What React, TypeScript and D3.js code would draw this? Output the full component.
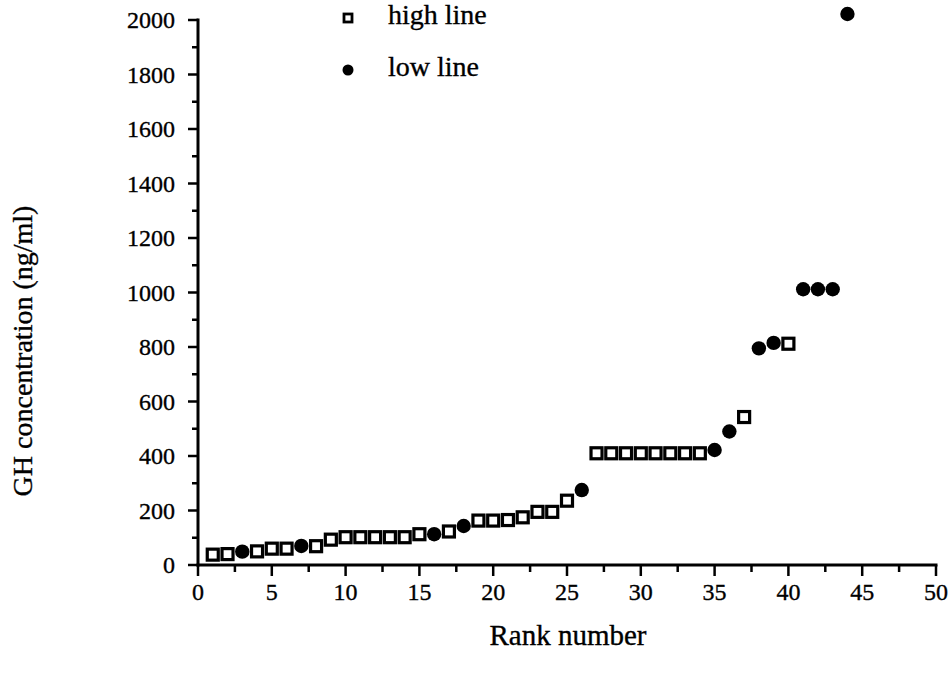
import React from "react";
import * as d3 from "d3";

// High-line samples (open squares): rank and GH concentration (ng/ml)
const highRanks = [1, 2, 4, 5, 6, 8, 9, 10, 11, 12, 13, 14, 15, 17, 19, 20, 21, 22, 23, 24, 25, 27, 28, 29, 30, 31, 32, 33, 34, 37, 40];
const highValues = [38, 40, 50, 60, 60, 69, 93, 102, 102, 102, 102, 102, 113, 123, 163, 163, 165, 175, 195, 195, 236, 410, 410, 410, 410, 410, 410, 410, 410, 543, 812];

// Low-line samples (filled circles)
const lowRanks = [3, 7, 16, 18, 26, 35, 36, 38, 39, 41, 42, 43, 44];
const lowValues = [49, 70, 113, 143, 275, 422, 490, 795, 815, 1012, 1012, 1012, 2022];

const xTicks = [0, 5, 10, 15, 20, 25, 30, 35, 40, 45, 50];
const yTicks = [0, 200, 400, 600, 800, 1000, 1200, 1400, 1600, 1800, 2000];
const xTitle = "Rank number";
const yTitle = "GH concentration (ng/ml)";
const legendLabels = ["high line", "low line"];

const W = 952;
const H = 679;
const FONT = '"Liberation Serif", "DejaVu Serif", "Times New Roman", Times, serif';

export default function App() {
  const x = d3.scaleLinear().domain([0, 50]).range([198, 936]);
  const y = d3.scaleLinear().domain([0, 2000]).range([565, 20]);

  const xMinor = d3.range(2.5, 50, 5);
  const yMinor = d3.range(100, 2000, 200);

  const high = highRanks.map((r, i) => ({ r, v: highValues[i] }));
  const low = lowRanks.map((r, i) => ({ r, v: lowValues[i] }));

  const sq = 11; // square marker side (centre of stroke)
  const x0 = x(0);
  const y0 = y(0);
  // slightly heavy type, like a printed figure
  const txt = {
    fontFamily: FONT,
    fill: "#000",
    stroke: "#000",
    strokeWidth: 0.35,
  } as React.CSSProperties;

  return (
    <svg
      width={W}
      height={H}
      viewBox={`0 0 ${W} ${H}`}
      style={{ position: "absolute", left: 0, top: 0, background: "#fff", fontFamily: FONT }}
    >
      <rect x={0} y={0} width={W} height={H} fill="#fff" />

      {/* axes */}
      <g stroke="#000" strokeWidth={3} strokeLinecap="square">
        <line x1={x0} y1={y0} x2={x(50)} y2={y0} />
        <line x1={x0} y1={y0} x2={x0} y2={y(2000)} />
      </g>

      {/* y ticks */}
      <g stroke="#000" strokeWidth={2.5}>
        {yTicks.map((t) => (
          <line key={"ym" + t} x1={x0 - 10} x2={x0} y1={y(t)} y2={y(t)} />
        ))}
        {yMinor.map((t) => (
          <line key={"yn" + t} x1={x0 - 6} x2={x0} y1={y(t)} y2={y(t)} />
        ))}
      </g>
      <g textAnchor="end">
        {yTicks.map((t) => (
          <text key={"yl" + t} x={x0 - 23} y={y(t)} dy="0.34em" style={{ ...txt, fontSize: 24 }}>
            {t}
          </text>
        ))}
      </g>

      {/* x ticks */}
      <g stroke="#000" strokeWidth={2.5}>
        {xTicks.map((t) => (
          <line key={"xm" + t} x1={x(t)} x2={x(t)} y1={y0} y2={y0 + 11} />
        ))}
        {xMinor.map((t) => (
          <line key={"xn" + t} x1={x(t)} x2={x(t)} y1={y0} y2={y0 + 7} />
        ))}
      </g>
      <g textAnchor="middle">
        {xTicks.map((t) => (
          <text key={"xl" + t} x={x(t)} y={600} style={{ ...txt, fontSize: 24 }}>
            {t}
          </text>
        ))}
      </g>

      {/* axis titles */}
      <text x={568} y={645} textAnchor="middle" style={{ ...txt, fontSize: 29 }}>
        {xTitle}
      </text>
      <text
        transform={`translate(32, 351) rotate(-90)`}
        textAnchor="middle"
        style={{ ...txt, fontSize: 28 }}
      >
        {yTitle}
      </text>

      {/* high line: open squares */}
      <g fill="#fff" stroke="#000" strokeWidth={3.2}>
        {high.map((d, i) => (
          <rect key={"h" + i} x={x(d.r) - sq / 2} y={y(d.v) - sq / 2} width={sq} height={sq} />
        ))}
      </g>

      {/* low line: filled circles */}
      <g fill="#000">
        {low.map((d, i) => (
          <circle key={"l" + i} cx={x(d.r)} cy={y(d.v)} r={7.2} />
        ))}
      </g>

      {/* legend */}
      <rect x={344} y={14} width={8} height={8} fill="#fff" stroke="#000" strokeWidth={2.8} />
      <text x={388} y={24} style={{ ...txt, fontSize: 28 }}>
        {legendLabels[0]}
      </text>
      <circle cx={348} cy={70} r={5.5} fill="#000" />
      <text x={388} y={76} style={{ ...txt, fontSize: 28 }}>
        {legendLabels[1]}
      </text>
    </svg>
  );
}
